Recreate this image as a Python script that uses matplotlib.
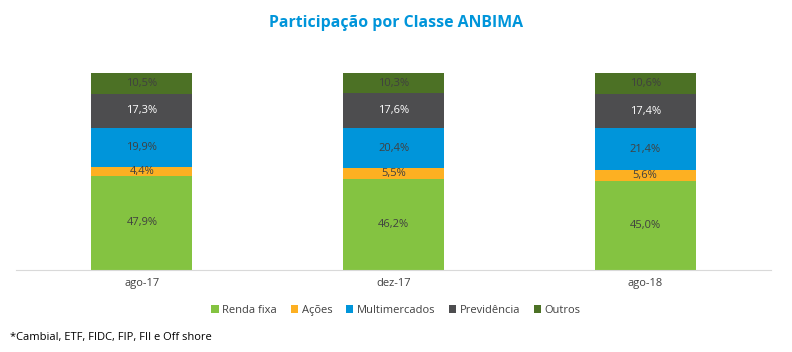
import matplotlib
matplotlib.use("Agg")
import matplotlib.pyplot as plt
import numpy as np

plt.rcParams['font.family'] = ['Open Sans', 'DejaVu Sans']

periods = ["ago-17", "dez-17", "ago-18"]
series = ["Renda fixa", "Ações", "Multimercados", "Previdência", "Outros"]
renda_fixa = [47.9, 46.2, 45.0]
acoes = [4.4, 5.5, 5.6]
multimercados = [19.9, 20.4, 21.4]
previdencia = [17.3, 17.6, 17.4]
outros = [10.5, 10.3, 10.6]

colors = ["#84C341", "#FDB022", "#0095DA", "#4D4D4F", "#4C7125"]
text_colors = ["#404040", "#404040", "#404040", "#FFFFFF", "#404040"]

fig = plt.figure(figsize=(7.92, 3.52), dpi=100)
ax = fig.add_axes([0.0202, 0.233, 0.9533, 0.5594])

x = np.arange(len(periods))
bottom = np.zeros(len(periods))
for name, vals, c, tc in zip(series, [renda_fixa, acoes, multimercados, previdencia, outros], colors, text_colors):
    vals = np.array(vals)
    ax.bar(x, vals, 0.4, bottom=bottom, color=c, label=name)
    for xi, b, v in zip(x, bottom, vals):
        ax.text(xi, b + v / 2, ("%.1f%%" % v).replace(".", ","), ha="center", va="center",
                fontsize=8, color=tc)
    bottom += vals

ax.set_xlim(-0.5, 2.5)
ax.set_ylim(0, 100)
ax.set_yticks([])
ax.set_xticks(x)
ax.set_xticklabels(periods, fontsize=8, color="#404040")
ax.tick_params(axis="x", length=0, pad=6)
for s in ["top", "left", "right"]:
    ax.spines[s].set_visible(False)
ax.spines["bottom"].set_color("#D9D9D9")

fig.text(0.5, 0.935, "Participação por Classe ANBIMA", ha="center", va="center",
         fontsize=11.4, fontweight="bold", color="#0095DA")

fig.legend(loc="center", bbox_to_anchor=(0.5, 0.118), ncol=5, frameon=False,
           fontsize=8, handlelength=0.7, handleheight=0.7, handletextpad=0.3,
           columnspacing=1.2, labelcolor="#404040")

fig.text(0.012, 0.04, "*Cambial, ETF, FIDC, FIP, FII e Off shore", fontsize=8,
         color="#000000", va="center")

fig.savefig("out.png", dpi=100)
